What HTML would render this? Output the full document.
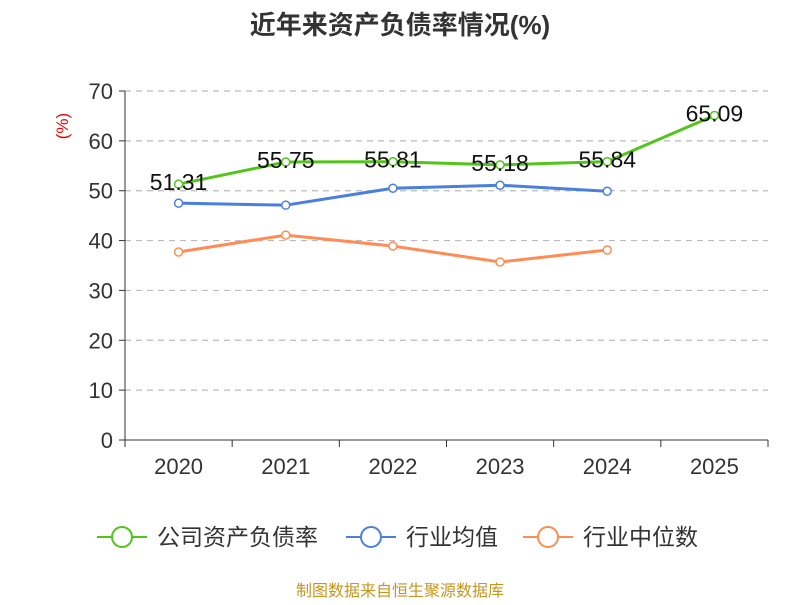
<!DOCTYPE html>
<html><head><meta charset="utf-8"><style>
body{margin:0;background:#fff;font-family:"Liberation Sans","Noto Sans CJK SC",sans-serif;}
</style></head><body>
<svg id="c" width="800" height="600" xmlns="http://www.w3.org/2000/svg" font-family="Liberation Sans, Noto Sans CJK SC, sans-serif">
<text x="400" y="34" text-anchor="middle" font-size="26" font-weight="bold" fill="#333">近年来资产负债率情况(%)</text>
<text x="68" y="126" text-anchor="middle" font-size="17" fill="#e00" transform="rotate(-90 68 126)">(%)</text>
<g id="grid"></g><g id="axes"></g><g id="series"></g>
<g>
<g><line x1="97" y1="537" x2="147" y2="537" stroke="#52c41a" stroke-width="2"/><circle cx="122" cy="537" r="10" fill="#fff" stroke="#52c41a" stroke-width="2"/><text x="157" y="545" font-size="23" fill="#333">公司资产负债率</text></g>
<g><line x1="346" y1="537" x2="396" y2="537" stroke="#4a7fe0" stroke-width="2"/><circle cx="371" cy="537" r="10" fill="#fff" stroke="#4a7fe0" stroke-width="2"/><text x="406" y="545" font-size="23" fill="#333">行业均值</text></g>
<g><line x1="523" y1="537" x2="573" y2="537" stroke="#ff8c55" stroke-width="2"/><circle cx="548" cy="537" r="10" fill="#fff" stroke="#ff8c55" stroke-width="2"/><text x="583" y="545" font-size="23" fill="#333">行业中位数</text></g>
</g>
<text x="400" y="596" text-anchor="middle" font-size="16" fill="#c8961e">制图数据来自恒生聚源数据库</text>
</svg>
<script>
const categories=["2020","2021","2022","2023","2024","2025"];
const companyVals=[51.31,55.75,55.81,55.18,55.84,65.09];
const meanVals=[47.5,47.1,50.5,51.1,49.9];
const medianVals=[37.7,41.1,38.9,35.7,38.1];
const yTicks=[0,10,20,30,40,50,60,70];
const NS="http://www.w3.org/2000/svg";
const x0=125,x1=768,y0=440,y1=91,ymax=70;
const bw=(x1-x0)/categories.length;
const xs=i=>x0+bw*(i+0.5);
const ys=v=>y0-(v/ymax)*(y0-y1);
function mk(tag,attrs,parent){const e=document.createElementNS(NS,tag);for(const k in attrs)e.setAttribute(k,attrs[k]);document.getElementById(parent).appendChild(e);return e;}
yTicks.forEach(t=>{
 const y=ys(t);
 if(t>0){const g=mk('line',{x1:x0,x2:x1,y1:y,y2:y,stroke:'#bbb','stroke-dasharray':'6,5','stroke-width':1.2},'grid');
 
 }
 const tk=mk('line',{x1:x0-6,x2:x0,y1:y,y2:y,stroke:'#333'},'axes');
 
 
 const l=mk('text',{x:x0-12,y:y+8,'text-anchor':'end','font-size':'22',fill:'#333'},'axes');l.textContent=t;
 
 
});
const ya=mk('line',{x1:x0,x2:x0,y1:y1,y2:y0,stroke:'#333'},'axes');


const xa=mk('line',{x1:x0,x2:x1,y1:y0,y2:y0,stroke:'#333'},'axes');


for(let i=0;i<=categories.length;i++){const t=mk('line',{x1:x0+bw*i,x2:x0+bw*i,y1:y0,y2:y0+7,stroke:'#333'},'axes');
 
 }
categories.forEach((c,i)=>{const l=mk('text',{x:xs(i),y:474,'text-anchor':'middle','font-size':'22',fill:'#333'},'axes');l.textContent=c;
 
 });
function series(vals,color,name,labels){
 const p=mk('polyline',{points:vals.map((v,i)=>xs(i)+','+ys(v)).join(' '),fill:'none',stroke:color,'stroke-width':3},'series');
 
 
 vals.forEach((v,i)=>{const c=mk('circle',{cx:xs(i),cy:ys(v),r:4,fill:'#fff',stroke:color,'stroke-width':1.5},'series');
  
  
 });
 if(labels)vals.forEach((v,i)=>{const t=mk('text',{x:xs(i),y:ys(v)+6,'text-anchor':'middle','font-size':'23',fill:'#111'},'series');t.textContent=v.toFixed(2);
  
  });
}
series(medianVals,'#ff8c55','industry-median',false);
series(meanVals,'#4a7fe0','industry-mean',false);
series(companyVals,'#52c41a','company',true);
</script>
</body></html>
